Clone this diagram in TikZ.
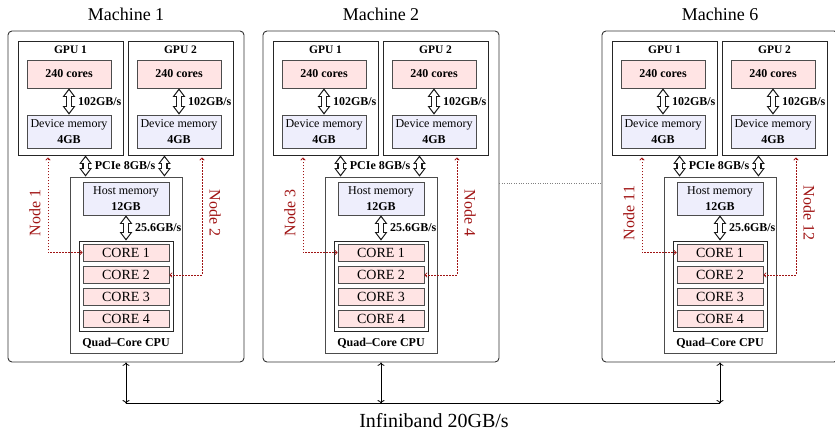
\documentclass[tikz,border=0pt]{standalone}
\usepackage{fontspec}
\setmainfont{Liberation Serif}
\usetikzlibrary{positioning,arrows.meta}
\definecolor{nodered}{RGB}{160,20,20}
\definecolor{corefill}{RGB}{255,228,228}
\definecolor{memfill}{RGB}{238,238,252}

\begin{document}
\begin{tikzpicture}[x=1pt, y=-1pt,
    machinebox/.style={draw=black!80, line width=0.9pt, rounded corners=4pt, minimum width=236pt, minimum height=331pt},
    machtitle/.style={font=\fontsize{18}{20}\selectfont},
    gpubox/.style={draw=black!85, line width=1pt, minimum width=105pt, minimum height=114pt},
    gpulabel/.style={font=\fontsize{11.5}{13}\selectfont\bfseries, inner sep=0pt},
    corebox/.style={draw=black!70, line width=0.8pt, fill=corefill, minimum width=84pt, minimum height=28pt, font=\fontsize{12}{14}\selectfont\bfseries},
    membox/.style={draw=black!70, line width=0.8pt, fill=memfill, minimum height=33pt, inner sep=0pt, align=center, font=\fontsize{12}{16}\selectfont},
    cpubox/.style={draw=black!70, line width=0.9pt, minimum width=112pt, minimum height=176pt},
    corestack/.style={draw=black!85, line width=0.9pt, minimum width=94pt, minimum height=90pt},
    cpucore/.style={draw=black!70, line width=0.8pt, fill=corefill, minimum width=86pt, minimum height=17pt, inner sep=0pt, font=\fontsize{14}{16}\selectfont},
    bwlabel/.style={font=\fontsize{12}{14}\selectfont\bfseries, inner sep=1pt},
    nodelabel/.style={text=nodered, font=\fontsize{16}{18}\selectfont, inner sep=0pt},
    nodelink/.style={draw=nodered, line width=0.8pt, dash pattern=on 1.6pt off 1.4pt, {To[length=3pt,width=5pt]}-{To[length=3pt,width=5pt]}},
    fatarrow/.style={draw=white, line width=4pt,
        {Triangle[length=5.4pt,width=8.4pt,line width=0pt]}-{Triangle[length=5.4pt,width=8.4pt,line width=0pt]},
        shorten <=2pt, shorten >=2pt,
        preaction={draw=black!90, line width=6.6pt, shorten <=0pt, shorten >=0pt,
        {Triangle[length=8.4pt,width=12.6pt,line width=0pt]}-{Triangle[length=8.4pt,width=12.6pt,line width=0pt]}}},
    iblabel/.style={font=\fontsize{20}{22}\selectfont}]
    \useasboundingbox (0,0) rectangle (835,431);
    \clip (0,0) rectangle (835,431);
    \foreach \m/\dx/\nl/\nr in {1/0/1/2, 2/255/3/4, 6/594/11/12}{
    \begin{scope}[xshift=\dx pt]
        % Machine frame
        \node[machinebox] (mach\m) at (126,196.5) {};
        \node[machtitle, above=6pt of mach\m] (title\m) {Machine \m};
        % GPU 1
        \node[gpubox] (gpuA\m) at (70.5,98) {};
        \node[gpulabel] (gpuAlabel\m) at (70.5,50) {GPU 1};
        \node[corebox] (coresA\m) at (69,74) {240 cores};
        \node[membox, minimum width=84pt] (devA\m) at (69,131.5) {Device memory\\\textbf{4GB}};
        % GPU 2
        \node[gpubox] (gpuB\m) at (180.5,98) {};
        \node[gpulabel] (gpuBlabel\m) at (180.5,50) {GPU 2};
        \node[corebox] (coresB\m) at (179,74) {240 cores};
        \node[membox, minimum width=84pt] (devB\m) at (179,131.5) {Device memory\\\textbf{4GB}};
        % CPU
        \node[cpubox] (cpu\m) at (126,265) {};
        \node[membox, minimum width=86pt] (host\m) at (126,198.5) {Host memory\\\textbf{12GB}};
        \node[corestack] (stack\m) at (126,286) {};
        \node[cpucore] (core1\m) at (126,252.5) {CORE 1};
        \node[cpucore] (core2\m) at (126,275) {CORE 2};
        \node[cpucore] (core3\m) at (126,297) {CORE 3};
        \node[cpucore] (core4\m) at (126,319) {CORE 4};
        \node[bwlabel] (cpulabel\m) at (126,343) {Quad--Core CPU};
        % Buses
        \draw[fatarrow] (coresA\m) -- (devA\m) node[midway, right=6pt, bwlabel] {102GB/s};
        \draw[fatarrow] (coresB\m) -- (devB\m) node[midway, right=6pt, bwlabel] {102GB/s};
        \draw[fatarrow] (host\m) -- (stack\m) node[midway, right=6pt, bwlabel] {25.6GB/s};
        \coordinate (pcieA\m) at ([xshift=16pt]cpu\m.north west);
        \coordinate (pcieB\m) at ([xshift=-18pt]cpu\m.north east);
        \draw[fatarrow] (pcieA\m |- gpuA\m.south) -- (pcieA\m);
        \draw[fatarrow] (pcieB\m |- gpuB\m.south) -- (pcieB\m);
        \node[bwlabel] (pcie\m) at (125,166) {PCIe 8GB/s};
        % Nodes
        \node[nodelabel, rotate=90] (nodeL\m) at (35,213) {Node \nl};
        \node[nodelabel, rotate=-90] (nodeR\m) at (215,213) {Node \nr};
        \draw[nodelink] (core1\m.west) -| ([xshift=-22.5pt,yshift=-2pt]gpuA\m.south);
        \draw[nodelink] (core2\m.east) -| ([xshift=21.5pt,yshift=-2pt]gpuB\m.south);
        % Infiniband link
        \coordinate (bus\m) at ([yshift=-41pt]mach\m.south);
        \draw[<->, line width=0.8pt] (mach\m.south) -- (bus\m);
    \end{scope}
    }
    \draw[line width=1.6pt] (bus1) -- (bus6);
    \node[iblabel] (ib) at (434,421) {Infiniband 20GB/s};
    \draw[gray, dotted] ([yshift=13.5pt]mach2.east) -- ([yshift=13.5pt]mach6.west);
\end{tikzpicture}
\end{document}
